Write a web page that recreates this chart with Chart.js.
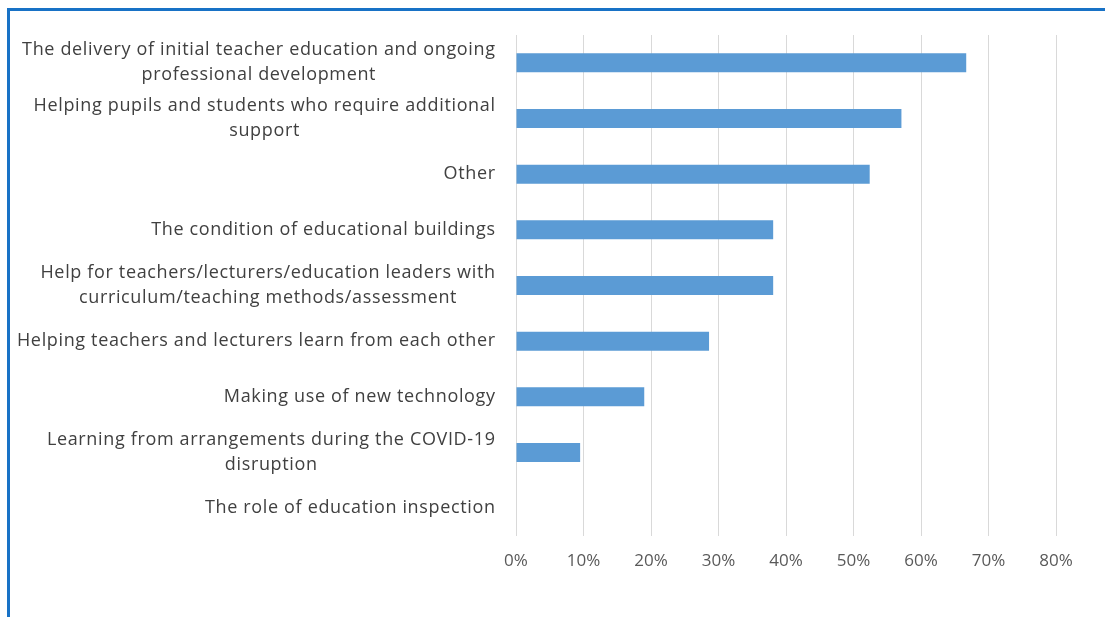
<!DOCTYPE html>
<html>
<head>
<meta charset="utf-8">
<script src="https://cdn.jsdelivr.net/npm/chart.js@4/dist/chart.umd.min.js"></script>
<style>
  html, body { margin: 0; padding: 0; background: #ffffff; }
  #wrap { position: relative; width: 1105px; height: 617px; overflow: hidden; }
  #frame {
    position: absolute; left: 7px; top: 8px; right: -10px; bottom: -10px;
    border-top: 3px solid #1872c6; border-left: 3px solid #1872c6;
    pointer-events: none;
  }
  canvas { position: absolute; left: 0; top: 0; }
</style>
</head>
<body>
<div id="wrap">
  <canvas id="chart" width="1105" height="617"></canvas>
  <div id="frame"></div>
</div>
<script>
// Survey areas (each label split into its display lines)
const categories = [
  ["The delivery of initial teacher education and ongoing", "professional development"],
  ["Helping pupils and students who require additional", "support"],
  ["Other"],
  ["The condition of educational buildings"],
  ["Help for teachers/lecturers/education leaders with", "curriculum/teaching methods/assessment"],
  ["Helping teachers and lecturers learn from each other"],
  ["Making use of new technology"],
  ["Learning from arrangements during the COVID-19", "disruption"],
  ["The role of education inspection"]
];

// Share of respondents selecting each area (%)
const shares = [66.7, 57.1, 52.4, 38.1, 38.1, 28.6, 19.0, 9.5, 0];

// Axis tick values (%)
const tickValues = [0, 10, 20, 30, 40, 50, 60, 70, 80];

const LABEL_FONT = '18px "Open Sans", sans-serif';
const LABEL_SPACING = 0.65;
const LABEL_COLOR = '#404040';

// Draws the category labels: right-aligned block, lines centred within the block
const categoryLabels = {
  id: 'categoryLabels',
  afterDraw(chart) {
    const ctx = chart.ctx;
    const yScale = chart.scales.y;
    const blockRight = chart.chartArea.left - 21;
    const lineHeight = 25;
    ctx.save();
    ctx.font = LABEL_FONT;
    ctx.letterSpacing = LABEL_SPACING + 'px';
    ctx.fillStyle = LABEL_COLOR;
    ctx.textAlign = 'left';
    ctx.textBaseline = 'middle';
    const widthOf = s => ctx.measureText(s).width - LABEL_SPACING;
    categories.forEach((lines, i) => {
      const cy = yScale.getPixelForValue(i);
      const w = Math.max(...lines.map(widthOf));
      const cx = blockRight - w / 2;
      lines.forEach((line, j) => {
        ctx.fillText(line, cx - widthOf(line) / 2, cy + (j - (lines.length - 1) / 2) * lineHeight);
      });
    });
    ctx.restore();
  }
};

new Chart(document.getElementById('chart'), {
  type: 'bar',
  data: {
    labels: categories.map(l => l.join(' ')),
    datasets: [{
      data: shares,
      backgroundColor: '#5b9bd5',
      borderWidth: 0,
      barPercentage: 0.34,
      categoryPercentage: 1
    }]
  },
  options: {
    indexAxis: 'y',
    responsive: false,
    animation: false,
    layout: { padding: { left: 0, top: 35, right: 49, bottom: 31 } },
    plugins: { legend: { display: false }, tooltip: { enabled: false } },
    scales: {
      y: {
        grid: { display: false },
        border: { display: false },
        ticks: { display: false },
        afterFit(scale) { scale.width = 516; }
      },
      x: {
        min: tickValues[0],
        max: tickValues[tickValues.length - 1],
        afterBuildTicks(scale) { scale.ticks = tickValues.map(v => ({ value: v })); },
        grid: { color: '#d9d9d9', lineWidth: 1, drawTicks: false },
        border: { display: false },
        ticks: {
          padding: 15,
          color: '#595959',
          font: { family: '"Open Sans", sans-serif', size: 17 },
          callback: v => v + '%'
        },
        afterFit(scale) { scale.height = 50; }
      }
    }
  },
  plugins: [categoryLabels]
});
</script>
</body>
</html>
